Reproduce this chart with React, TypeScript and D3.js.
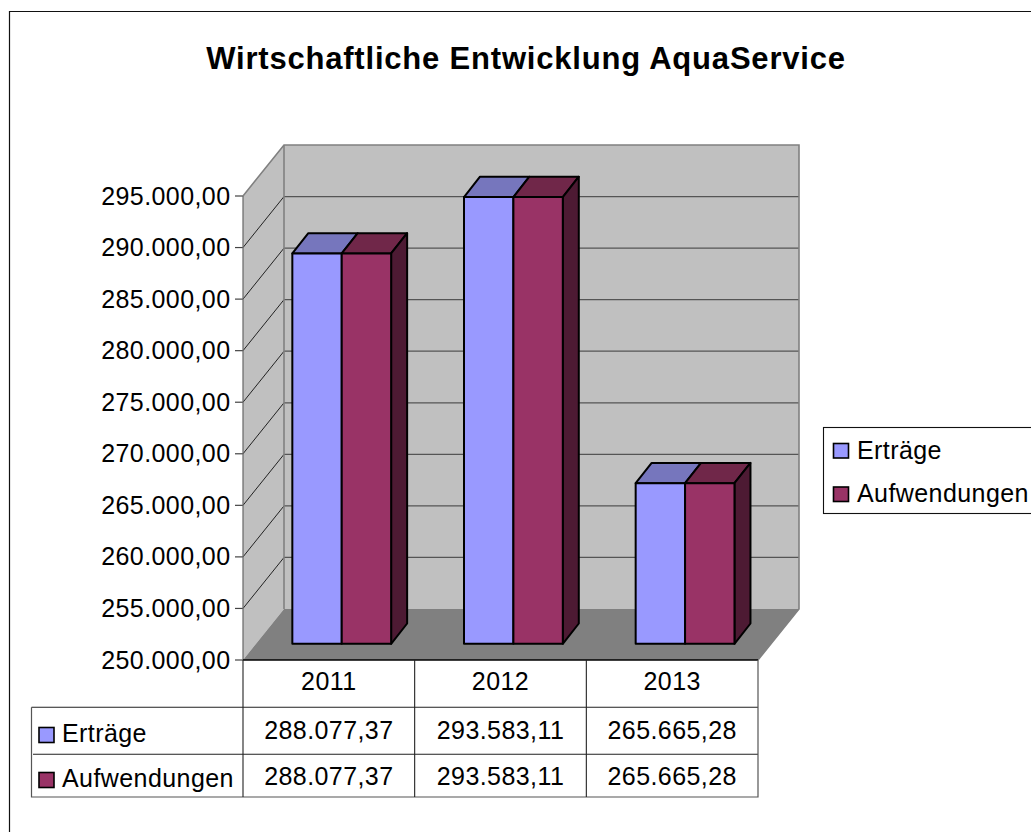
import React from "react";
import * as d3 from "d3";

const categories = ["2011", "2012", "2013"];
const seriesNames = ["Erträge", "Aufwendungen"];
const ertraege = [288077.37, 293583.11, 265665.28];
const aufwendungen = [288077.37, 293583.11, 265665.28];
const tickValues = [250000, 255000, 260000, 265000, 270000, 275000, 280000, 285000, 290000, 295000];
const title = "Wirtschaftliche Entwicklung AquaService";

const colors = [
  { front: "#9999ff", top: "#7676bd", side: "#3f3f7f" },
  { front: "#993366", top: "#702749", side: "#4d1a33" },
];
const FONT = "'Liberation Sans', Arial, sans-serif";
const fmtNum = (v: number, d: number) => {
  const [a, b] = v.toFixed(d).split(".");
  return a.replace(/\B(?=(\d{3})+(?!\d))/g, ".") + "," + b;
};

const x0 = 243, x1 = 758, yBase = 660, yTop = 196;
const wallDx = 41, wallDy = 51;
const barDx = 12.9, barBase = 643.8, barDepthX = 16, barDepthY = 20.3;
const LS = 0.42;

export default function App() {
  const y = d3.scaleLinear().domain([250000, 295000]).range([yBase, yTop]);
  const yBar = d3.scaleLinear().domain([250000, 295000]).range([barBase, barBase - 461.3]);
  const xCat = d3.scaleBand<string>().domain(categories).range([x0, x1]);
  const barW = 49.4;
  const series = [ertraege, aufwendungen];
  const pts = (a: number[][]) => a.map((p) => p.join(",")).join(" ");
  const rowYs = [707.3, 754.3, 797];
  const cols = [x0, ...categories.map((c) => (xCat(c) as number) + xCat.bandwidth())];

  return (
    <svg width={1031} height={832} style={{ position: "absolute", left: 0, top: 0, display: "block" }} fontFamily={FONT}>
      <rect x={0} y={0} width={1031} height={832} fill="#fff" />
      <path d="M9.5,832V11.5H1031" fill="none" stroke="#111" strokeWidth={1.2} />
      <text x={526} y={68.5} textAnchor="middle" fontSize={31} fontWeight="bold" fill="#000" letterSpacing={0.8}>{title}</text>

      {/* walls */}
      <polygon points={pts([[x0 + wallDx, yBase - wallDy], [x1 + wallDx, yBase - wallDy], [x1 + wallDx, yTop - wallDy], [x0 + wallDx, yTop - wallDy]])} fill="#c0c0c0" />
      <polygon points={pts([[x0, yBase], [x0 + wallDx, yBase - wallDy], [x0 + wallDx, yTop - wallDy], [x0, yTop]])} fill="#c0c0c0" />
      {tickValues.map((t) => (
        <g key={t}>
          {t > 250000 && t < 295000 && (
            <line x1={x0 + wallDx} x2={x1 + wallDx} y1={y(t) - wallDy} y2={y(t) - wallDy} stroke="#555" strokeWidth={1.3} />
          )}
          {t > 250000 && t < 295000 && (
            <line x1={x0} x2={x0 + wallDx} y1={y(t)} y2={y(t) - wallDy} stroke="#222" strokeWidth={1} />
          )}
          <line x1={235} x2={x0} y1={y(t)} y2={y(t)} stroke="#444" strokeWidth={1.2} />
          <text x={230.5} y={y(t) + 8.5} textAnchor="end" fontSize={25} fill="#000" letterSpacing={LS}>{fmtNum(t, 2)}</text>
        </g>
      ))}
      <polygon points={pts([[x0, yBase], [x0 + wallDx, yBase - wallDy], [x1 + wallDx, yBase - wallDy], [x1, yBase]])} fill="#808080" />
      <path d={`M${x0},${yTop}L${x0 + wallDx},${yTop - wallDy}H${x1 + wallDx}V${yBase - wallDy}L${x1},${yBase}`} fill="none" stroke="#808080" strokeWidth={1.6} />
      <line x1={x0 + wallDx} x2={x0 + wallDx} y1={yTop - wallDy} y2={yBase - wallDy} stroke="#808080" strokeWidth={1.6} />
      <line x1={x0} x2={x0} y1={yTop} y2={yBase} stroke="#666" strokeWidth={1.2} />

      {/* bars */}
      {categories.map((c, i) => {
        const cx = (xCat(c) as number) + xCat.bandwidth() / 2 + barDx;
        return (
          <g key={c} stroke="#000" strokeWidth={2} strokeLinejoin="round">
            {series.map((s, k) => {
              const l = cx - barW + k * barW;
              const r = l + barW;
              const t = yBar(s[i]);
              return (
                <g key={k}>
                  <polygon points={pts([[l, t], [l + barDepthX, t - barDepthY], [r + barDepthX, t - barDepthY], [r, t]])} fill={colors[k].top} />
                  {k === series.length - 1 && (
                    <polygon points={pts([[r, t], [r + barDepthX, t - barDepthY], [r + barDepthX, barBase - barDepthY], [r, barBase]])} fill={colors[k].side} />
                  )}
                  <rect x={l} y={t} width={barW} height={barBase - t} fill={colors[k].front} />
                </g>
              );
            })}
          </g>
        );
      })}

      {/* data table */}
      <line x1={x0} x2={x1} y1={yBase} y2={yBase} stroke="#000" strokeWidth={1.6} />
      <path d={`M31.5,${rowYs[0]}H${x1}M33,${rowYs[1]}H${x1}`} fill="none" stroke="#222" strokeWidth={1.1} />
      <path d={`M31.5,${rowYs[0]}V${rowYs[2]}H${x1}V${yBase}`} fill="none" stroke="#555" strokeWidth={1.2} />
      {cols.slice(0, 3).map((cx, i) => (
        <line key={i} x1={cx} x2={cx} y1={yBase} y2={rowYs[2]} stroke="#222" strokeWidth={1.1} />
      ))}
      {categories.map((c, i) => {
        const cx = (xCat(c) as number) + xCat.bandwidth() / 2;
        return (
          <g key={c} textAnchor="middle" fontSize={25} fill="#000">
            <text x={cx} y={690} letterSpacing={LS}>{c}</text>
            {series.map((s, k) => (
              <text key={k} x={cx} y={[738.5, 785][k]} letterSpacing={LS}>{fmtNum(s[i], 2)}</text>
            ))}
          </g>
        );
      })}
      {seriesNames.map((n, k) => (
        <g key={n}>
          <rect x={39} y={[727.5, 772.5][k]} width={15} height={15} fill={colors[k].front} stroke="#000" strokeWidth={1.6} />
          <text x={62} y={[741.7, 786.7][k]} fontSize={25} fill="#000" letterSpacing={LS}>{n}</text>
        </g>
      ))}

      {/* legend */}
      <rect x={823.5} y={427.5} width={230} height={86} fill="#fff" stroke="#111" strokeWidth={1.1} />
      {seriesNames.map((n, k) => (
        <g key={n}>
          <rect x={833.5} y={[443.5, 487][k]} width={15} height={14.5} fill={colors[k].front} stroke="#000" strokeWidth={1.6} />
          <text x={857} y={[458.5, 501.5][k]} fontSize={25} fill="#000" letterSpacing={LS}>{n}</text>
        </g>
      ))}
    </svg>
  );
}
